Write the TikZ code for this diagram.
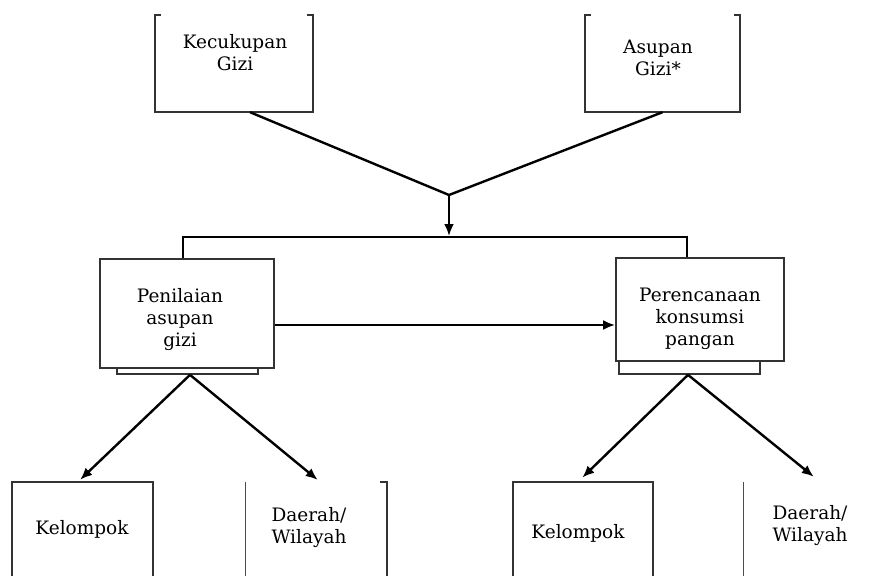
\documentclass[tikz,border=0pt]{standalone}
\usepackage{fontspec}
\setmainfont{DejaVu Serif}
\usetikzlibrary{arrows.meta}

\tikzset{
    frame/.style={inner sep=0pt},
    box/.style={draw=black!80, fill=white, line width=1.7pt, inner sep=0pt},
    edge/.style={draw=black!80, line width=1.7pt},
    thinedge/.style={draw=black!70, line width=0.9pt},
    txt/.style={align=center, inner sep=0pt, font=\fontsize{18.5}{22}\selectfont},
    link/.style={line width=2.4pt},
    arr/.style={link, -{Latex[length=12pt,width=10pt]}}
}

\begin{document}
\begin{tikzpicture}[x=1pt, y=-1pt]
        \useasboundingbox (0,0) rectangle (874,575);

        % Top boxes (open at the top, only corner ticks)
        \node[frame, minimum width=158pt, minimum height=97pt] (kecukupan) at (234,63.5) {};
        \node[frame, minimum width=155pt, minimum height=97pt] (asupan) at (662.5,63.5) {};
        \draw[edge] ([xshift=6pt]kecukupan.north west) -- (kecukupan.north west) -- (kecukupan.south west)
            -- (kecukupan.south east) -- (kecukupan.north east) -- ([xshift=-6pt]kecukupan.north east);
        \draw[edge] ([xshift=6pt]asupan.north west) -- (asupan.north west) -- (asupan.south west)
            -- (asupan.south east) -- (asupan.north east) -- ([xshift=-6pt]asupan.north east);
        \node[txt] (kecukupantxt) at (235,53) {Kecukupan\\Gizi};
        \node[txt] (asupantxt) at (658,58) {Asupan\\Gizi*};

        % Middle boxes with their bases
        \node[box, minimum width=141pt, minimum height=12pt] (penilaianbase) at (187.5,368) {};
        \node[box, minimum width=174pt, minimum height=109pt] (penilaian) at (187,313.5) {};
        \node[box, minimum width=141pt, minimum height=13pt] (rencanabase) at (689.5,367.5) {};
        \node[box, minimum width=168pt, minimum height=103pt] (rencana) at (700,309.5) {};
        \node[txt] (penilaiantxt) at (180,320) {Penilaian\\asupan\\gizi};
        \node[txt] (rencanatxt) at (700,319) {Perencanaan\\konsumsi\\pangan};

        % Bottom boxes (cut by the lower border)
        \node[frame, minimum width=141pt, minimum height=110pt] (kelompokA) at (82.5,537) {};
        \node[frame, minimum width=141pt, minimum height=110pt] (daerahA) at (316.5,537) {};
        \node[frame, minimum width=140pt, minimum height=110pt] (kelompokB) at (583,537) {};
        \node[frame, minimum width=141pt, minimum height=110pt] (daerahB) at (814.5,537) {};
        \draw[edge] (kelompokA.south west) -- (kelompokA.north west) -- (kelompokA.north east) -- (kelompokA.south east);
        \draw[edge] (kelompokB.south west) -- (kelompokB.north west) -- (kelompokB.north east) -- (kelompokB.south east);
        \draw[thinedge] (daerahA.north west) -- (daerahA.south west);
        \draw[edge] ([xshift=-7pt]daerahA.north east) -- (daerahA.north east) -- (daerahA.south east);
        \draw[thinedge] (daerahB.north west) -- (daerahB.south west);
        \node[txt] (kelompokAtxt) at (82,529) {Kelompok};
        \node[txt] (daerahAtxt) at (309,528) {Daerah/\\Wilayah};
        \node[txt] (kelompokBtxt) at (578,533) {Kelompok};
        \node[txt] (daerahBtxt) at (810,526) {Daerah/\\Wilayah};

        % Draw the joining lines from the top boxes
        \coordinate (join) at (449,195);
        \coordinate (bar) at (449,237);
        \draw[link] ([xshift=16pt]kecukupan.south) -- (join) -- (asupan.south);
        \draw[arr] (join) -- ([yshift=1pt]bar);
        \draw[link] ([xshift=-4pt]penilaian.north) |- (bar) -| ([xshift=-13pt]rencana.north);

        % Draw the arrow between the middle boxes
        \draw[arr] ([yshift=-11.5pt]penilaian.east) -- ([yshift=-11.5pt]penilaian.east -| rencana.west);

        % Draw the arrows down to the bottom boxes
        \draw[arr, shorten >=3pt] ([xshift=2.5pt]penilaianbase.south) -- ([xshift=-4.5pt]kelompokA.north);
        \draw[arr, shorten >=3pt] ([xshift=2.5pt]penilaianbase.south) -- ([xshift=3.5pt]daerahA.north);
        \draw[arr, shorten >=6pt] ([xshift=-1.5pt]rencanabase.south) -- ([xshift=-5pt]kelompokB.north);
        \draw[arr, shorten >=8pt] ([xshift=-1.5pt]rencanabase.south) -- ([xshift=5.5pt]daerahB.north);
    \end{tikzpicture}
\end{document}
